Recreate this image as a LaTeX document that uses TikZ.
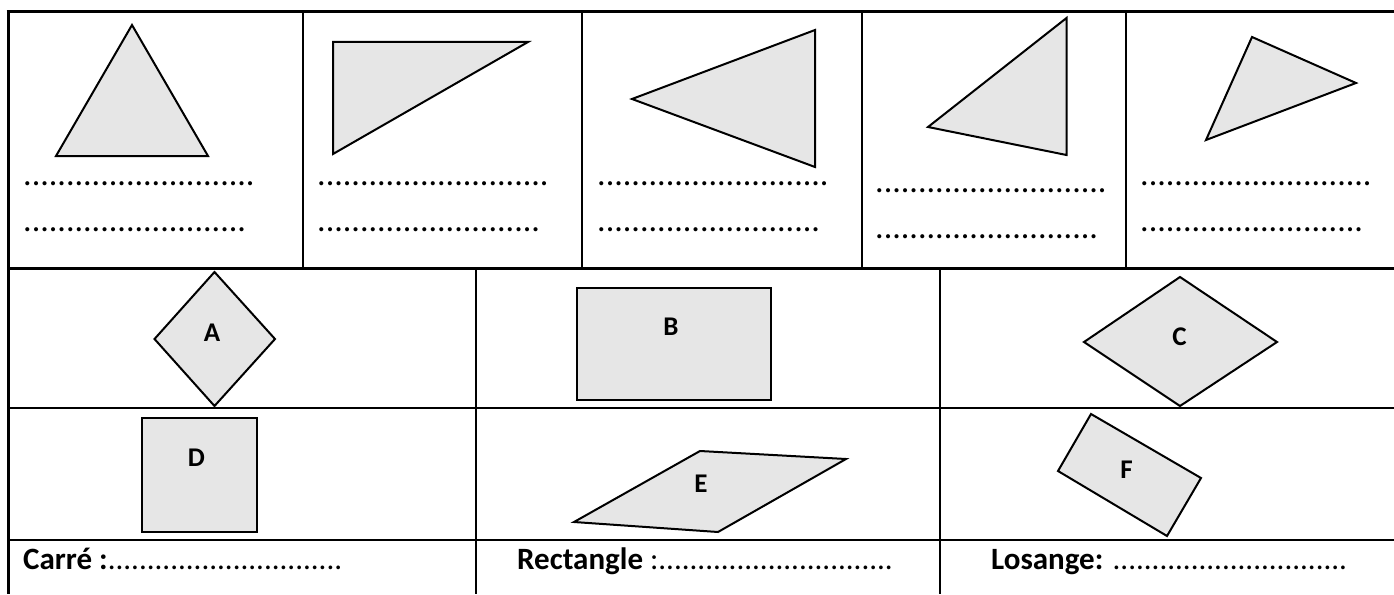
\documentclass[tikz,border=0pt]{standalone}
\usepackage{fontspec}
\setmainfont{Carlito}
\definecolor{figgray}{RGB}{230,230,230}
\begin{document}
\begin{tikzpicture}[x=1pt,y=-1pt,
  frame/.style={line width=3pt},
  gridline/.style={line width=2pt},
  fig/.style={draw=black, fill=figgray, line width=2pt, line join=miter},
  lbl/.style={font=\fontsize{27}{32}\selectfont\bfseries, inner sep=0pt},
  dotline/.style={font=\fontsize{34}{40}\selectfont, anchor=base west, inner sep=0pt},
  ans/.style={font=\fontsize{31}{37}\selectfont, anchor=base west, inner sep=0pt}
]
\useasboundingbox (0,0) rectangle (1394,594);
\fill[white] (0,0) rectangle (1394,594);

% grid
\draw[frame] (6.5,12) -- (1394,12);
\draw[frame] (8,10.5) -- (8,594);
\draw[frame] (8,268) -- (1394,268);
\draw[gridline] (8,408) -- (1394,408);
\draw[gridline] (8,540) -- (1394,540);
\foreach \xx in {303,582,862,1126} \draw[gridline] (\xx,12) -- (\xx,268);
\foreach \xx in {476,940} \draw[gridline] (\xx,268) -- (\xx,594);

% triangles
\draw[fig] (132,25) -- (56,156) -- (208,156) -- cycle;
\draw[fig] (333,42) -- (528,42) -- (333,154) -- cycle;
\draw[fig] (632,99) -- (815,30) -- (815,167) -- cycle;
\draw[fig] (1066.5,18) -- (928,127) -- (1066.5,155) -- cycle;
\draw[fig] (1252,37) -- (1356,83) -- (1206,140) -- cycle;

% dotted answer lines (top row)
\node[dotline] (d1a) at (23,185) {...........................};
\node[dotline] (d1b) at (23,231) {..........................};
\node[dotline] (d2a) at (317,185) {...........................};
\node[dotline] (d2b) at (317,231) {..........................};
\node[dotline] (d3a) at (597,185) {...........................};
\node[dotline] (d3b) at (597,231) {..........................};
\node[dotline] (d4a) at (875,192) {...........................};
\node[dotline] (d4b) at (875,238) {..........................};
\node[dotline] (d5a) at (1140,185) {...........................};
\node[dotline] (d5b) at (1140,231) {..........................};

% quadrilaterals
\draw[fig] (214.5,272) -- (275,339) -- (214.5,406) -- (154.5,339) -- cycle;
\node[lbl] (A) at (212,333) {A};
\draw[fig] (577,288) rectangle (771,400);
\node[lbl] (B) at (671,327) {B};
\draw[fig] (1180,277) -- (1277,342) -- (1180,406) -- (1084,342) -- cycle;
\node[lbl] (C) at (1179.5,337) {C};
\draw[fig] (142,418) rectangle (257,532);
\node[lbl] (D) at (196.5,458) {D};
\draw[fig] (574,522) -- (700,451) -- (846,459) -- (718,532) -- cycle;
\node[lbl] (E) at (701,484) {E};
\draw[fig] (1091,414) -- (1201,478) -- (1167,536) -- (1058,471) -- cycle;
\node[lbl] (F) at (1126.5,470) {F};

% bottom answers
\node[ans] (carre) at (23,569) {\textbf{Carré :}..............................};
\node[ans] (rect) at (517,569) {\textbf{Rectangle} :..............................};
\node[ans] (los) at (991,569) {\textbf{Losange:} ..............................};
\end{tikzpicture}
\end{document}
